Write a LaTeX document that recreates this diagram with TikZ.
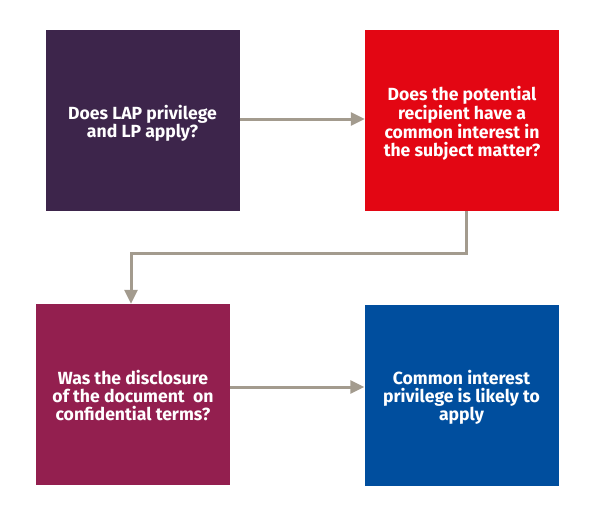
\documentclass[tikz,border=0pt]{standalone}
\usepackage{fontspec}
\setmainfont{Fira Sans}
\usetikzlibrary{arrows.meta}
\definecolor{cpurple}{HTML}{3D254B}
\definecolor{cred}{HTML}{E30613}
\definecolor{cmaroon}{HTML}{931F4F}
\definecolor{cblue}{HTML}{004E9E}
\definecolor{carrow}{HTML}{A39B8E}
\begin{document}
\begin{tikzpicture}[x=1pt,y=-1pt,
  box/.style={minimum width=194pt,minimum height=181pt,inner sep=0pt},
  boxtext/.style={inner sep=0pt,text=white,
    font=\fontsize{17.6}{18}\selectfont\bfseries,align=center},
  conn/.style={draw=carrow,line width=3pt,-{Triangle[length=14pt,width=13pt]}}]
\useasboundingbox (0,0) rectangle (595,517);
\node[box,fill=cpurple] (a) at (142.5,120.5) {};
\node[box,fill=cred] (b) at (462,120.5) {};
\node[box,fill=cmaroon] (c) at (133,394.5) {};
\node[box,fill=cblue] (d) at (461.5,395) {};
\node[boxtext] (at) at ([yshift=-2.5pt]a.center) {Does LAP privilege\\and LP apply?};
\node[boxtext] (bt) at ([yshift=-2.5pt]b.center) {Does the potential\\recipient have a\\common interest in\\the subject matter?};
\node[boxtext] (ct) at ([yshift=-1.5pt]c.center) {Was the disclosure\\of the document\ \ on\\confidential terms?};
\node[boxtext] (dt) at ([yshift=-2.5pt]d.center) {Common interest\\privilege is likely to\\apply};
\coordinate (k1) at (466,253);
\coordinate (k2) at (131,253);
\draw[conn] (a.east |- 0,119) -- (b.west |- 0,119);
\draw[conn] (b.south -| k1) -- (k1) -- (k2) -- (c.north -| k2);
\draw[conn] (c.east |- 0,387) -- (d.west |- 0,387);
\end{tikzpicture}
\end{document}
